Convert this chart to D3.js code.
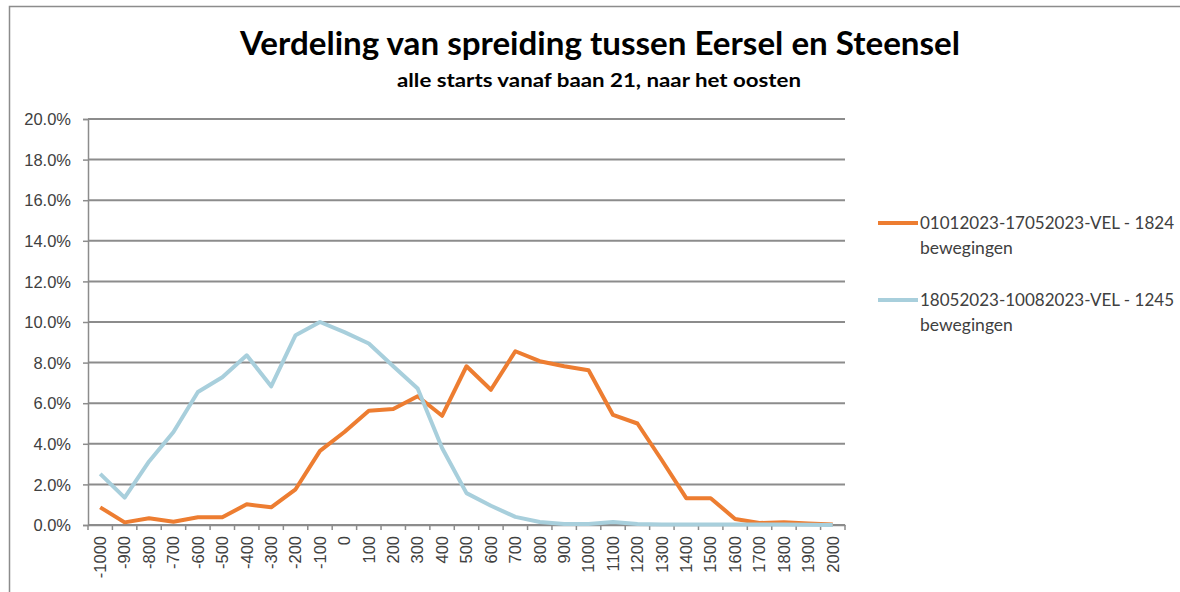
<!DOCTYPE html>
<html lang="nl">
<head>
    <meta charset="UTF-8">
    <title>Verdeling van spreiding tussen Eersel en Steensel</title>
    <script src="https://d3js.org/d3.v7.min.js"></script>
    <style>
        body { margin: 0; background: #fff; }
        svg { display: block; font-family: Lato, "Open Sans", sans-serif; }
        .grid line { stroke: #8c8c8c; stroke-width: 2px; }
        .axis path, .axis line { stroke: #8c8c8c; stroke-width: 1.5px; }
        .axis text { fill: #404040; font-size: 16.5px; }
        .legend text { fill: #404040; font-size: 17.5px; }
    </style>
</head>
<body>
    <svg id="chart"></svg>

    <script>
        // Categories (afstand in meters) and series values (percent)
        const categories = [-1000, -900, -800, -700, -600, -500, -400, -300, -200, -100, 0,
            100, 200, 300, 400, 500, 600, 700, 800, 900, 1000, 1100, 1200, 1300, 1400,
            1500, 1600, 1700, 1800, 1900, 2000];

        const seriesOrange = [0.87, 0.13, 0.33, 0.16, 0.38, 0.38, 1.02, 0.87, 1.76, 3.65, 4.58,
            5.63, 5.71, 6.34, 5.38, 7.82, 6.66, 8.56, 8.07, 7.82, 7.62, 5.42, 5.0, 3.19, 1.32,
            1.32, 0.3, 0.1, 0.13, 0.08, 0.02];

        const seriesBlue = [2.52, 1.35, 3.13, 4.58, 6.55, 7.28, 8.36, 6.83, 9.35, 10.0, 9.5,
            8.94, 7.82, 6.72, 3.79, 1.57, 0.95, 0.4, 0.15, 0.05, 0.05, 0.15, 0.05, 0.03, 0.03,
            0.02, 0.02, 0.02, 0.02, 0.01, 0.0];

        const yTicks = [0, 2, 4, 6, 8, 10, 12, 14, 16, 18, 20];

        const seriesNames = [
            ["01012023-17052023-VEL - 1824", "bewegingen"],
            ["18052023-10082023-VEL - 1245", "bewegingen"]
        ];
        const colors = ["#ed7d31", "#a8cfdc"];

        const width = 1180, height = 592;
        const margin = { top: 119, left: 88, right: 335, bottom: 67 };

        const svg = d3.select("#chart")
            .attr("width", width)
            .attr("height", height);

        // outer frame (cut off at right and bottom in the picture)
        svg.append("path")
            .attr("d", `M9.5,${height} V6.5 H${width}`)
            .attr("fill", "none")
            .attr("stroke", "#8c8c8c")
            .attr("stroke-width", 1.5);

        // titles
        svg.append("text")
            .attr("x", 240).attr("y", 55)
            .attr("font-size", 32)
            .attr("font-weight", "bold")
            .attr("fill", "#000")
            .attr("textLength", 720)
            .attr("lengthAdjust", "spacingAndGlyphs")
            .text("Verdeling van spreiding tussen Eersel en Steensel");

        svg.append("text")
            .attr("x", 397).attr("y", 87)
            .attr("font-size", 18)
            .attr("font-weight", "bold")
            .attr("fill", "#000")
            .attr("textLength", 404)
            .attr("lengthAdjust", "spacingAndGlyphs")
            .text("alle starts vanaf baan  21, naar het oosten");

        const x = d3.scaleBand()
            .domain(categories)
            .range([margin.left, width - margin.right]);

        const y = d3.scaleLinear()
            .domain([0, 20])
            .range([height - margin.bottom, margin.top]);

        // horizontal grid lines
        svg.append("g")
            .attr("class", "grid")
            .selectAll("line")
            .data(yTicks)
            .join("line")
            .attr("x1", margin.left)
            .attr("x2", width - margin.right)
            .attr("y1", d => y(d))
            .attr("y2", d => y(d));

        // y axis
        svg.append("g")
            .attr("class", "axis")
            .attr("transform", `translate(${margin.left},0)`)
            .call(d3.axisLeft(y)
                .tickValues(yTicks)
                .tickSize(5)
                .tickPadding(12)
                .tickFormat(d => d.toFixed(1) + "%"))
            .call(g => g.selectAll("text").attr("dy", "0.35em"));

        // x axis, ticks between categories
        const xAxis = svg.append("g")
            .attr("class", "axis")
            .attr("transform", `translate(0,${y(0)})`)
            .call(d3.axisBottom(x).tickSize(0).tickPadding(0).tickFormat(d => String(d)));

        xAxis.selectAll(".tick text")
            .attr("transform", "rotate(-90)")
            .attr("text-anchor", "end")
            .attr("x", -11)
            .attr("y", 0)
            .attr("dy", "0.35em")
            .style("font-size", "16.5px");

        xAxis.selectAll(".sep")
            .data(d3.range(categories.length + 1))
            .join("line")
            .attr("class", "sep")
            .attr("x1", i => margin.left + i * x.bandwidth())
            .attr("x2", i => margin.left + i * x.bandwidth())
            .attr("y1", 0)
            .attr("y2", 5);

        // lines
        const line = d3.line()
            .x((d, i) => x(categories[i]) + x.bandwidth() / 2)
            .y(d => y(d));

        [seriesOrange, seriesBlue].forEach((s, k) => {
            svg.append("path")
                .datum(s)
                .attr("fill", "none")
                .attr("stroke", colors[k])
                .attr("stroke-width", 4)
                .attr("stroke-linejoin", "round")
                .attr("d", line);
        });

        // legend
        const legend = svg.append("g").attr("class", "legend");
        const legendY = [223, 300];
        seriesNames.forEach((name, k) => {
            legend.append("line")
                .attr("x1", 878).attr("x2", 918)
                .attr("y1", legendY[k]).attr("y2", legendY[k])
                .attr("stroke", colors[k])
                .attr("stroke-width", 4);
            legend.append("text")
                .attr("x", 920).attr("y", legendY[k] + 6)
                .attr("textLength", 254)
                .attr("lengthAdjust", "spacingAndGlyphs")
                .text(name[0]);
            legend.append("text")
                .attr("x", 920).attr("y", legendY[k] + 31)
                .text(name[1]);
        });
    </script>
</body>
</html>
